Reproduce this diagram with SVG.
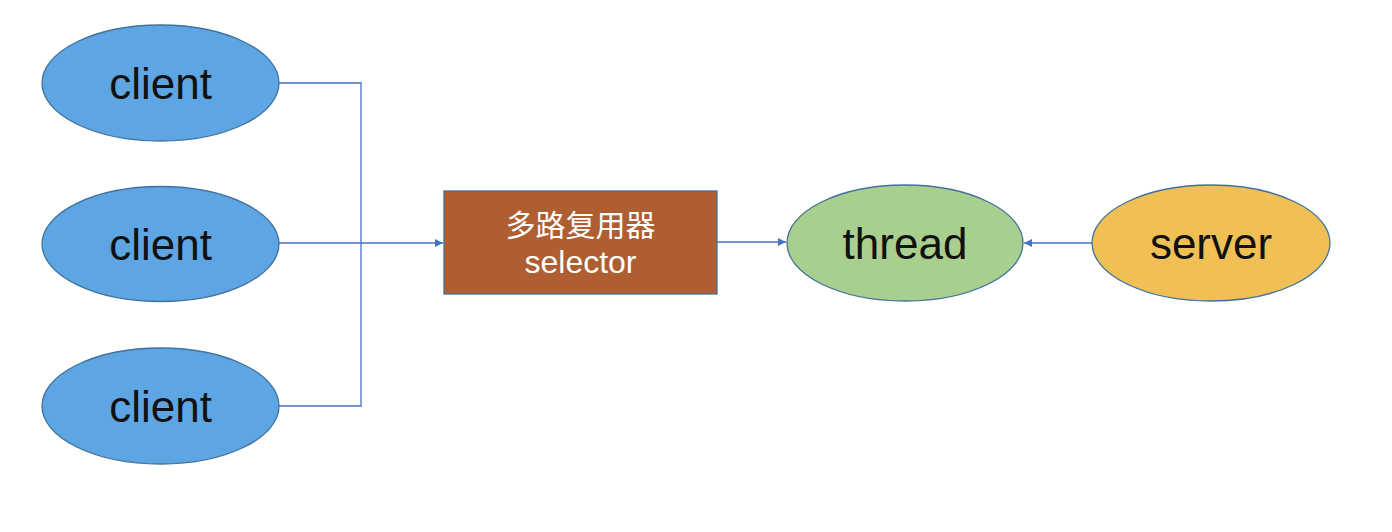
<svg xmlns="http://www.w3.org/2000/svg" width="1392" height="532" viewBox="0 0 1392 532">
<style>
.el{stroke:#41719C;stroke-width:1.3}
.client{fill:#5DA5E3}
.lbl{font-family:"Liberation Sans","Noto Sans CJK SC",sans-serif;font-size:44px;fill:#111;text-anchor:middle}
.wl{font-family:"Liberation Sans","Noto Sans CJK SC",sans-serif;font-size:30px;fill:#fff;text-anchor:middle}
.ln{fill:none;stroke:#4472C4;stroke-width:1.3}
</style>
<defs>
<marker id="ah" viewBox="0 0 10 10" refX="10" refY="5" markerWidth="8" markerHeight="8" markerUnits="userSpaceOnUse" orient="auto">
<path d="M0,0 L10,5 L0,10 z" fill="#4472C4"/>
</marker>
</defs>
<rect width="1392" height="532" fill="#fff"/>
<g id="connectors">
<polyline class="ln" points="279,83 361,83 361,406 279,406"/>
<line class="ln" x1="279" y1="243" x2="443" y2="243" marker-end="url(#ah)"/>
<line class="ln" x1="717" y1="242" x2="786" y2="242" marker-end="url(#ah)"/>
<line class="ln" x1="1092" y1="243" x2="1024" y2="243" marker-end="url(#ah)"/>
</g>
<g id="client1">
<ellipse class="el client" cx="160.5" cy="83" rx="118.5" ry="58"/>
<text class="lbl" x="160.5" y="99">client</text>
</g>
<g id="client2">
<ellipse class="el client" cx="160.5" cy="244" rx="118.5" ry="57.5"/>
<text class="lbl" x="160.5" y="260">client</text>
</g>
<g id="client3">
<ellipse class="el client" cx="160.5" cy="406" rx="118.5" ry="58"/>
<text class="lbl" x="160.5" y="422">client</text>
</g>
<g id="selector">
<rect x="444" y="191" width="273" height="103" fill="#AE5E30" stroke="#41719C" stroke-width="1.3"/>
<text class="wl" x="580.5" y="236">多路复用器</text>
<text class="wl" x="580.5" y="273" style="font-size:32px">selector</text>
</g>
<g id="thread">
<ellipse class="el" fill="#A9CF8E" cx="905" cy="243" rx="118" ry="58"/>
<text class="lbl" x="905" y="259">thread</text>
</g>
<g id="server">
<ellipse class="el" fill="#F0BF55" cx="1211" cy="243" rx="119" ry="58"/>
<text class="lbl" x="1211" y="259">server</text>
</g>
</svg>
